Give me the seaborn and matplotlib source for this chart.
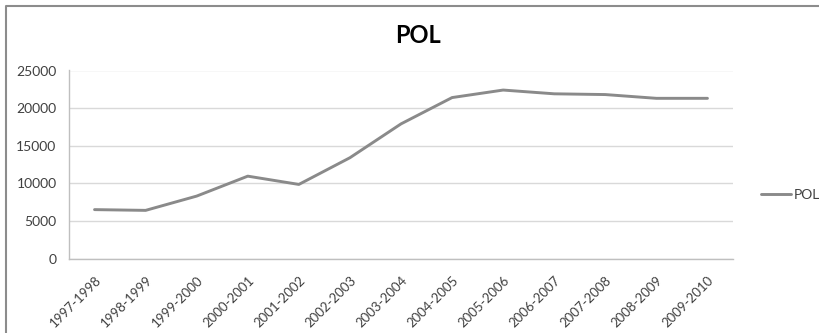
import numpy as np
import pandas as pd
import matplotlib
matplotlib.use('Agg')
import matplotlib.pyplot as plt
from matplotlib.lines import Line2D
import seaborn as sns

# data
seasons = ['1997-1998', '1998-1999', '1999-2000', '2000-2001', '2001-2002',
           '2002-2003', '2003-2004', '2004-2005', '2005-2006', '2006-2007',
           '2007-2008', '2008-2009', '2009-2010']
pol = [6500, 6400, 8300, 10950, 9850, 13400, 17900,
       21400, 22400, 21900, 21800, 21300, 21300]
yticks = [0, 5000, 10000, 15000, 20000, 25000]

df = pd.DataFrame({'season': seasons, 'POL': pol})

sns.set_style('white')
plt.rcParams['font.family'] = ['Lato', 'DejaVu Sans']

fig = plt.figure(figsize=(8.19, 3.33), dpi=100)
ax = fig.add_axes([69 / 819, 1 - 258.5 / 333, (733 - 69) / 819, (258.5 - 70.5) / 333])

sns.lineplot(data=df, x='season', y='POL', ax=ax, color='#8a8a8a',
             linewidth=2.1, label='POL', sort=False)

ax.set_xlim(-0.5, len(seasons) - 0.5)
ax.set_ylim(0, 25000)
ax.set_yticks(yticks)
ax.set_yticklabels([str(v) for v in yticks], fontsize=10, color='#404040')
ax.set_xticks(range(len(seasons)))
ax.set_xticklabels(seasons, rotation=45, ha='right', rotation_mode='anchor',
                   fontsize=9.5, color='#404040')
ax.set_xticks(np.arange(-0.5, len(seasons)), minor=True)
ax.tick_params(axis='x', which='major', length=0, pad=11)
ax.tick_params(axis='x', which='minor', length=5, color='#bfbfbf', width=1, direction='out')
ax.tick_params(axis='y', length=3, color='#bfbfbf', direction='out', pad=6)
ax.set_xlabel('')
ax.set_ylabel('')

ax.grid(axis='y', color='#d9d9d9', linewidth=1)
ax.set_axisbelow(True)
for side in ['top', 'right']:
    ax.spines[side].set_visible(False)
for side in ['left', 'bottom']:
    ax.spines[side].set_color('#bfbfbf')
    ax.spines[side].set_linewidth(1)

ax.set_title('POL', fontsize=17, fontweight='bold', color='black', x=(418 - 69) / (733 - 69), pad=20)

ax.get_legend().remove()
fig.legend(loc='center left', bbox_to_anchor=(748 / 819, 1 - 195 / 333), frameon=False,
           fontsize=10, handlelength=2.2, handletextpad=0.2, labelcolor='#404040')

# outer chart border (only left and top edges are inside the picture)
bx, by = 6 / 819, 1 - 6 / 333
fig.add_artist(Line2D([bx, bx, 1.0], [0.0, by, by], transform=fig.transFigure,
                      color='#8c8c8c', linewidth=1.5))

fig.savefig('out.png', dpi=100, facecolor='white')
